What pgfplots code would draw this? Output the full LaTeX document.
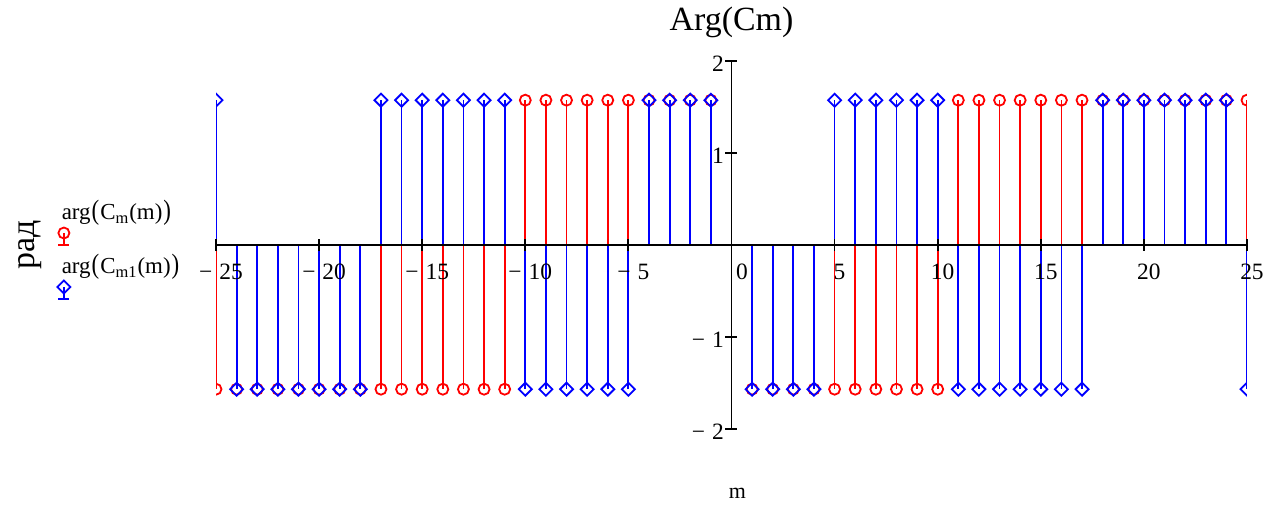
\documentclass[border=0pt]{standalone}
\usepackage{fontspec}
\setmainfont{Liberation Serif}
\usepackage{pgfplots}
\usepackage{pgfplotstable}
\pgfplotsset{compat=1.18}

% Phase of the two spectra (rad), m = -25..25 without m = 0
% a: arg(C_m(m)),  b: arg(C_m1(m))
\pgfplotstableread{
m    a        b
-25 -1.5708  1.5708
-24 -1.5708 -1.5708
-23 -1.5708 -1.5708
-22 -1.5708 -1.5708
-21 -1.5708 -1.5708
-20 -1.5708 -1.5708
-19 -1.5708 -1.5708
-18 -1.5708 -1.5708
-17 -1.5708  1.5708
-16 -1.5708  1.5708
-15 -1.5708  1.5708
-14 -1.5708  1.5708
-13 -1.5708  1.5708
-12 -1.5708  1.5708
-11 -1.5708  1.5708
-10  1.5708 -1.5708
-9   1.5708 -1.5708
-8   1.5708 -1.5708
-7   1.5708 -1.5708
-6   1.5708 -1.5708
-5   1.5708 -1.5708
-4   1.5708  1.5708
-3   1.5708  1.5708
-2   1.5708  1.5708
-1   1.5708  1.5708
1   -1.5708 -1.5708
2   -1.5708 -1.5708
3   -1.5708 -1.5708
4   -1.5708 -1.5708
5   -1.5708  1.5708
6   -1.5708  1.5708
7   -1.5708  1.5708
8   -1.5708  1.5708
9   -1.5708  1.5708
10  -1.5708  1.5708
11   1.5708 -1.5708
12   1.5708 -1.5708
13   1.5708 -1.5708
14   1.5708 -1.5708
15   1.5708 -1.5708
16   1.5708 -1.5708
17   1.5708 -1.5708
18   1.5708  1.5708
19   1.5708  1.5708
20   1.5708  1.5708
21   1.5708  1.5708
22   1.5708  1.5708
23   1.5708  1.5708
24   1.5708  1.5708
25   1.5708 -1.5708
}\phasedata

\newcommand{\bigpar}[1]{\scalebox{1}[1.22]{#1}}
\newcommand{\sub}[1]{\raisebox{-4.5bp}{\fontsize{16.5}{16.5}\selectfont #1}}

\begin{document}
\begin{tikzpicture}
\path[use as bounding box] (0,0) rectangle (1275bp,508bp);
\begin{axis}[
  at={(216bp,79.3bp)}, anchor=south west,
  scale only axis, width=1031bp, height=368bp,
  xmin=-25, xmax=25, ymin=-2, ymax=2,
  axis lines=middle, axis on top,
  axis line style={-, black, line width=1.8bp},
  hide obscured x ticks=false,
  hide obscured y ticks=false,
  xtick={-25,-20,-15,-10,-5,0,5,10,15,20,25},
  xticklabels={−\hspace{7bp}25,−\hspace{7bp}20,−\hspace{7bp}15,−\hspace{7bp}10,−\hspace{7bp}5,\hspace*{11bp}0,5,10,15,20,25},
  ytick={-2,-1,1,2},
  yticklabels={−\hspace{7bp}2,−\hspace{7bp}1,1,2},
  tick align=center,
  major tick length=12bp,
  tick style={black, line width=1.8bp},
  ticklabel style={font=\fontsize{23.5}{23.5}\selectfont, inner sep=0pt},
  xticklabel style={anchor=north, yshift=-13bp, xshift=5bp},
  yticklabel style={anchor=east, xshift=-1.5bp, yshift=-3bp},
  title={Arg(Cm)},
  title style={at={(axis description cs:0.5,1.0671)}, anchor=base,
    font=\fontsize{34}{34}\selectfont},
  xlabel={m},
  xlabel style={at={(axis description cs:0.5058,-0.1910)}, anchor=base,
    font=\fontsize{22}{22}\selectfont},
  ylabel={рад},
  ylabel style={at={(axis description cs:-0.1765,0.5)}, rotate=90, anchor=base,
    font=\fontsize{34}{34}\selectfont},
  clip marker paths=true,
  legend style={at={(axis description cs:-0.1513,0.6133)}, anchor=north west,
    draw=none, fill=none, inner sep=0pt, outer sep=0pt,
    column sep=0pt, row sep=32bp,
    font=\fontsize{23}{23}\selectfont,
    cells={anchor=base west},
    nodes={inner sep=0pt, text height=16bp, text depth=6bp}},
]
\addplot[red, ycomb, line width=1.8bp, mark=o, mark size=5.5bp,
  mark options={solid, line width=1.8bp},
  legend image code/.code={
    \path (0bp,0bp);
    \draw[overlay, red, line width=1.8bp] (3bp,-14bp) -- (3bp,-26bp)
      (-2.5bp,-26bp) -- (8.5bp,-26bp);
    \draw[overlay, red, line width=1.8bp] (3bp,-14bp) circle (5.5bp);
  }] table[x=m, y=a] {\phasedata};
\addlegendentry{arg\hspace{1bp}\bigpar{(}\hspace{1bp}C\sub{m}\hspace{1bp}(m)\hspace{1bp}\bigpar{)}}
\addplot[blue, ycomb, line width=1.8bp, mark=square, mark size=4.6bp,
  mark options={solid, rotate=45, line width=1.8bp},
  legend image code/.code={
    \path (0bp,0bp);
    \draw[overlay, blue, line width=1.8bp] (3bp,-14bp) -- (3bp,-26bp)
      (-2.5bp,-26bp) -- (8.5bp,-26bp);
    \draw[overlay, blue, line width=1.8bp] (3bp,-7.5bp) -- (9.5bp,-14bp)
      -- (3bp,-20.5bp) -- (-3.5bp,-14bp) -- cycle;
  }] table[x=m, y=b] {\phasedata};
\addlegendentry{arg\hspace{1bp}\bigpar{(}\hspace{1bp}C\sub{m1}\hspace{1bp}(m)\hspace{1bp}\bigpar{)}}
\end{axis}
\end{tikzpicture}
\end{document}
